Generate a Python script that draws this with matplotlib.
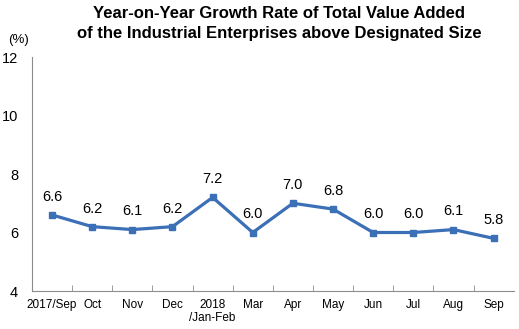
import matplotlib
matplotlib.use('Agg')
import matplotlib.pyplot as plt

# --- data ---
categories = ['2017/Sep', 'Oct', 'Nov', 'Dec', '2018\n/Jan-Feb', 'Mar', 'Apr',
              'May', 'Jun', 'Jul', 'Aug', 'Sep']
growth = [6.6, 6.2, 6.1, 6.2, 7.2, 6.0, 7.0, 6.8, 6.0, 6.0, 6.1, 5.8]
y_ticks = [4, 6, 8, 10, 12]

plt.rcParams['font.family'] = ['Liberation Sans', 'DejaVu Sans']
LINE = '#3b6fb6'
AXIS = '#8c8c8c'

fig = plt.figure(figsize=(5.19, 3.29), dpi=100)
ax = fig.add_axes([0.0617, 0.1155, 0.928, 0.7112])

x = list(range(len(categories)))
ax.plot(x, growth, color=LINE, linewidth=2.3, marker='s', markersize=4,
        solid_joinstyle='miter')
for xi, v in zip(x, growth):
    ax.annotate(f'{v:.1f}', (xi, v), xytext=(0, 8), textcoords='offset points',
                ha='center', va='bottom', fontsize=10.5)

ax.set_xlim(-0.5, len(categories) - 0.5)
ax.set_ylim(4, 12)
ax.set_yticks(y_ticks)
ax.set_xticks(x)
ax.set_xticklabels(categories, fontsize=8.5, linespacing=1.1)
ax.set_xticks([i + 0.5 for i in x[:-1]], minor=True)
ax.tick_params(axis='x', which='major', length=0, pad=6)
ax.tick_params(axis='x', which='minor', direction='in', length=4, color=AXIS)
ax.tick_params(axis='y', direction='in', length=0, labelsize=10.5, pad=10)

for s in ['top', 'right']:
    ax.spines[s].set_visible(False)
for s in ['left', 'bottom']:
    ax.spines[s].set_color(AXIS)

fig.text(0.015, 0.87, '(%)', fontsize=9.5)
fig.text(0.538, 0.982, 'Year-on-Year Growth Rate of Total Value Added\n'
         'of the Industrial Enterprises above Designated Size',
         ha='center', va='top', fontsize=12, fontweight='bold', linespacing=1.4)

plt.savefig('out.png', dpi=100)
